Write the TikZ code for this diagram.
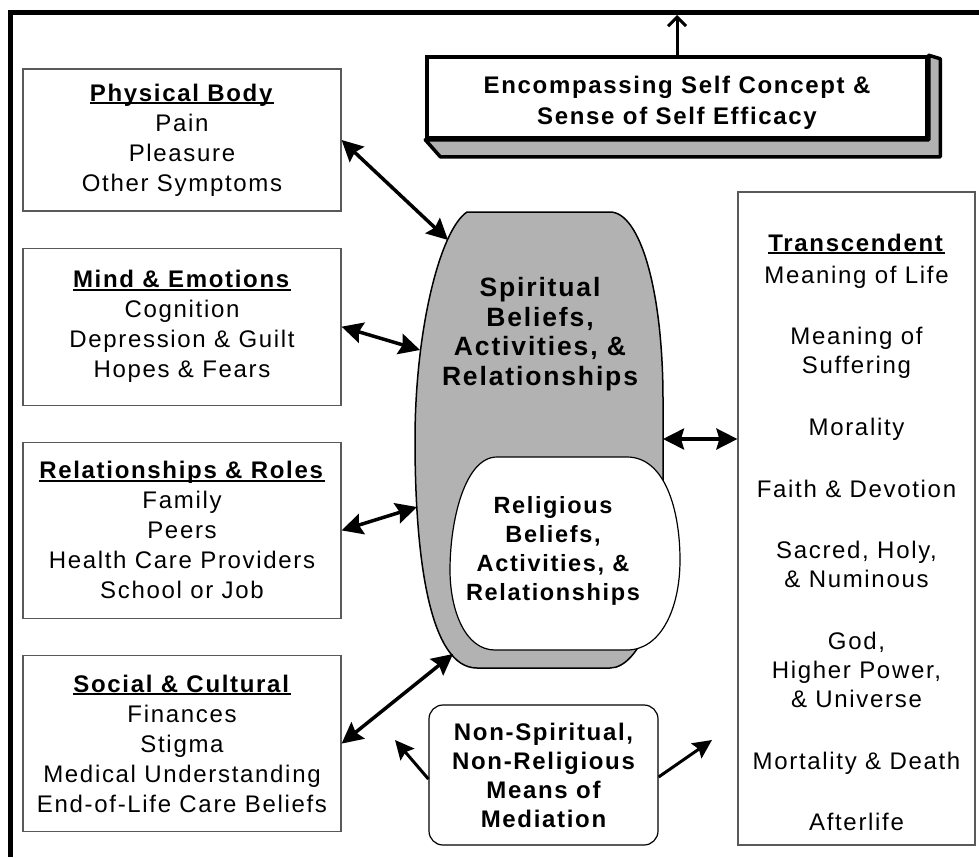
\documentclass[tikz,border=0pt]{standalone}
\usepackage{fontspec}
\setmainfont{Liberation Sans}[LetterSpace=7]
\usetikzlibrary{positioning,arrows.meta}

\definecolor{halftone}{gray}{0.7}
\newcommand{\factorhead}[1]{\setbox0\hbox{\textbf{#1}}\rlap{\rule[-3pt]{\wd0}{1.8pt}}\box0}

\tikzset{
  factor/.style={draw=black!65, line width=1.2pt, minimum width=318pt, align=center,
    inner sep=0pt, font=\fontsize{24}{30}\selectfont},
  link/.style={line width=3.5pt,
    {Stealth[length=21pt,width=21pt,inset=3pt]}-{Stealth[length=21pt,width=21pt,inset=3pt]}},
  outlink/.style={line width=3pt, -{Stealth[length=19pt,width=18pt,inset=3pt]}},
  frame/.style={line width=5pt, line join=miter},
  depth/.style={fill=halftone, draw=black, line width=3.5pt, line join=round}
}

\begin{document}
\begin{tikzpicture}[x=1pt,y=-1pt,node distance=36pt]
\useasboundingbox (0,0) rectangle (979,857);

% outer frame
\draw[frame] (10,857) -- (10,12.5) -- (979,12.5);
\coordinate (frameedge) at (10,15);

% left column
\node[factor, minimum height=142pt] (body) at (182,140)
  {\factorhead{Physical Body}\\Pain\\Pleasure\\Other Symptoms};
\node[factor, minimum height=157pt, below=of body] (mind)
  {\factorhead{Mind \& Emotions}\\Cognition\\Depression \& Guilt\\Hopes \& Fears};
\node[factor, minimum height=176pt, below=of mind] (rel)
  {\factorhead{Relationships \& Roles}\\Family\\Peers\\Health Care Providers\\School or Job};
\node[factor, minimum height=176pt, below=of rel] (soc)
  {\factorhead{Social \& Cultural}\\Finances\\Stigma\\Medical Understanding\\End-of-Life Care Beliefs};

% self concept box
\node[draw, line width=3.5pt, fill=white, minimum width=500pt, minimum height=81pt] (self) at (677,97.5) {};
\node[align=center, font=\fontsize{24}{31}\selectfont\bfseries, yshift=-5pt] (selftext) at (self.center)
  {Encompassing Self Concept \&\\Sense of Self Efficacy};
\draw[depth] (self.south west) -- ++(15,17) -- ++(500,0) -- ++(0,-98) -- (self.north east)
  -- (self.south east) -- cycle;
\draw[line width=3pt, -{Straight Barb[length=9pt,width=18pt]}] (self.north) -- (self.north |- frameedge);

% spiritual and religious
\fill[halftone, draw=black, line width=1.5pt] (467,212) -- (610,212)
  .. controls (640,212) and (663,290) .. (663,400) -- (663,560)
  .. controls (663,600) and (640,668) .. (610,668) -- (477,668)
  .. controls (430,668) and (415,560) .. (415,440)
  .. controls (415,330) and (440,230) .. (467,212) -- cycle;
\fill[white, draw=black, line width=1.2pt] (497,457) -- (627,457)
  .. controls (665,457) and (680,510) .. (680,560)
  .. controls (680,610) and (660,650) .. (627,650) -- (495,650)
  .. controls (465,650) and (450,610) .. (450,570)
  .. controls (450,520) and (465,457) .. (497,457) -- cycle;
\node[align=center, font=\fontsize{26.5}{29.5}\selectfont\bfseries] (spirit) at (540,334)
  {Spiritual\\Beliefs,\\Activities, \&\\Relationships};
\node[align=center, font=\fontsize{23.5}{29}\selectfont\bfseries] (relig) at (553,551)
  {Religious\\Beliefs,\\Activities, \&\\Relationships};
\coordinate (sp-body) at (448,240);
\coordinate (sp-mind) at (420,350);
\coordinate (sp-rel) at (417,507);
\coordinate (sp-soc) at (453,654);
\coordinate (sp-trans) at (663,439);

% transcendent
\node[draw=black!65, line width=1.2pt, minimum width=237pt, minimum height=653pt] (trans) at (856.5,518.5) {};
\node[align=center, inner sep=0pt, font=\fontsize{24}{29}\selectfont, below=42pt of trans.north] (transtext)
  {\factorhead{Transcendent}\\[3pt]Meaning of Life\\[32.7pt]Meaning of\\Suffering\\[32.7pt]Morality\\[32.7pt]%
   Faith \& Devotion\\[32.7pt]Sacred, Holy,\\\& Numinous\\[32.7pt]God,\\Higher Power,\\\& Universe\\[32.7pt]%
   Mortality \& Death\\[32.7pt]Afterlife};

% mediation
\node[draw, line width=1.2pt, rounded corners=14pt, minimum width=229pt, minimum height=140pt,
  align=center, font=\fontsize{24}{29}\selectfont\bfseries] (med) at (543.5,775)
  {Non-Spiritual,\\Non-Religious\\Means of\\Mediation};
\coordinate (med-l) at (395,740);
\coordinate (med-r) at (712,740);

% connectors
\draw[link] (body.east) -- (sp-body);
\draw[link] (mind.east) -- (sp-mind);
\draw[link] (rel.east) -- (sp-rel);
\draw[link] (soc.east) -- (sp-soc);
\draw[link] (sp-trans) -- (sp-trans -| trans.west);
\draw[outlink] ([yshift=-4pt]med.west) -- (med-l);
\draw[outlink] ([yshift=-2pt]med.east) -- (med-r);
\end{tikzpicture}
\end{document}
